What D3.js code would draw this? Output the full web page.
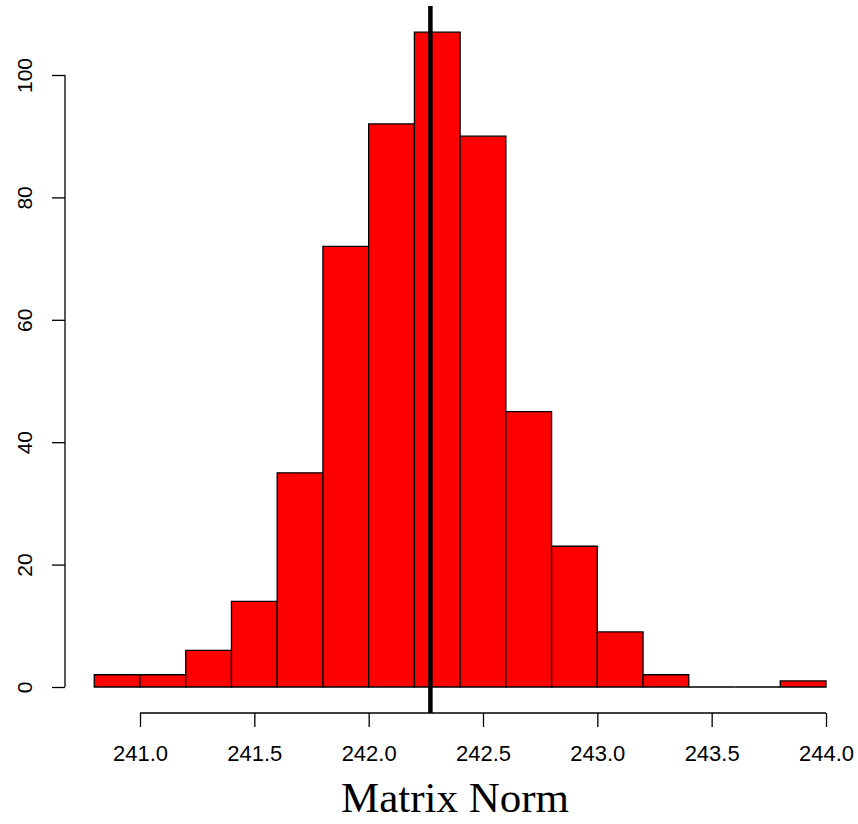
<!DOCTYPE html>
<html>
<head>
<meta charset="utf-8">
<script src="https://cdn.jsdelivr.net/npm/d3@7"></script>
<style>
  html, body { margin: 0; padding: 0; background: #fff; }
  svg { display: block; }
</style>
</head>
<body>
<div id="chart"></div>
<script>
// Histogram bins (left edges), width 0.2
const binStarts = [240.8, 241.0, 241.2, 241.4, 241.6, 241.8, 242.0, 242.2, 242.4, 242.6, 242.8, 243.0, 243.2, 243.4, 243.6, 243.8];
const binWidth = 0.2;
const counts = [2, 2, 6, 14, 35, 72, 92, 107, 90, 45, 23, 9, 2, 0, 0, 1];
const xTicks = [241.0, 241.5, 242.0, 242.5, 243.0, 243.5, 244.0];
const yTicks = [0, 20, 40, 60, 80, 100];
const meanValue = 242.27;
const xLabel = "Matrix Norm";

const W = 858, H = 824;
const svg = d3.select("#chart").append("svg").attr("width", W).attr("height", H);

const x = d3.scaleLinear().domain([241.0, 244.0]).range([140, 826]);
const y = d3.scaleLinear().domain([0, 100]).range([687, 75]);

// Bars (paths so that zero-count bins still show their outline)
svg.append("g").selectAll("path")
  .data(binStarts.map((s, i) => ({ s, c: counts[i] })))
  .join("path")
  .attr("d", d => {
    const x0 = x(d.s), x1 = x(d.s + binWidth), y0 = y(0), y1 = y(d.c);
    return `M${x0},${y0}V${y1}H${x1}V${y0}Z`;
  })
  .attr("fill", "#ff0000")
  .attr("stroke", "#000")
  .attr("stroke-width", 1.3);

// X axis
const xAxis = svg.append("g")
  .attr("transform", "translate(0,713)")
  .call(d3.axisBottom(x).tickValues(xTicks).tickFormat(d3.format(".1f")).tickSize(14).tickPadding(18));
xAxis.select(".domain").attr("stroke", "#000").attr("stroke-width", 1.3).attr("d", `M${x(241)},0H${x(244)}`);
xAxis.selectAll(".tick line").attr("stroke", "#000").attr("stroke-width", 1.3);
xAxis.selectAll("text").attr("font-family", "Liberation Sans, Arial, sans-serif").attr("font-size", 22).attr("fill", "#000");

// Y axis
const yAxis = svg.append("g")
  .attr("transform", "translate(65,0)")
  .call(d3.axisLeft(y).tickValues(yTicks).tickSize(13).tickFormat(d3.format("d")));
yAxis.select(".domain").attr("stroke", "#000").attr("stroke-width", 1.3).attr("d", `M0,${y(0)}V${y(100)}`);
yAxis.selectAll(".tick line").attr("stroke", "#000").attr("stroke-width", 1.3);
yAxis.selectAll(".tick text")
  .attr("font-family", "Liberation Sans, Arial, sans-serif")
  .attr("font-size", 21)
  .attr("fill", "#000")
  .attr("x", null).attr("dy", null)
  .attr("text-anchor", "middle")
  .attr("transform", "translate(-33,0) rotate(-90)");

// Mean line
svg.append("line")
  .attr("x1", x(meanValue)).attr("x2", x(meanValue))
  .attr("y1", 6).attr("y2", 713)
  .attr("stroke", "#000").attr("stroke-width", 4.5);

// X label
svg.append("text")
  .attr("x", (x(241) + x(244)) / 2 - 28)
  .attr("y", 812)
  .attr("text-anchor", "middle")
  .attr("font-family", "Liberation Serif, Times New Roman, serif")
  .attr("font-size", 43)
  .attr("fill", "#000")
  .text(xLabel);
</script>
</body>
</html>
